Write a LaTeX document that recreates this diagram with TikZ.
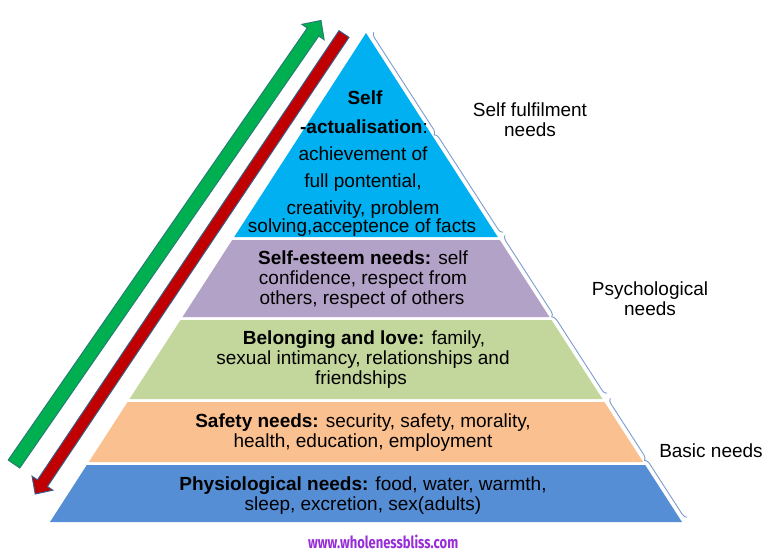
\documentclass[tikz,border=0pt]{standalone}
\usepackage{fontspec}
\setmainfont{Liberation Sans}
\newfontfamily\wmfont{Fira Sans}
\usepackage{graphicx}
\usetikzlibrary{calc,decorations.pathreplacing}
\definecolor{topblue}{RGB}{0,176,240}
\definecolor{lavender}{RGB}{179,162,199}
\definecolor{lightgreen}{RGB}{195,214,155}
\definecolor{peach}{RGB}{250,192,144}
\definecolor{baseblue}{RGB}{85,142,213}
\definecolor{arrowgreen}{RGB}{0,176,80}
\definecolor{arrowred}{RGB}{192,0,0}
\definecolor{outlineblue}{RGB}{56,93,138}
\definecolor{bracecol}{RGB}{125,155,205}
\definecolor{wmpurple}{RGB}{150,45,215}
\begin{document}
\begin{tikzpicture}[x=1pt,y=-1pt,
  txt/.style={anchor=base,inner sep=0pt,font=\fontsize{19}{20}\selectfont},
  side/.style={anchor=base,inner sep=0pt,align=center,font=\fontsize{19}{19.5}\selectfont},
  bracepath/.style={draw=bracecol,line width=0.9pt,decorate,decoration={brace,amplitude=5pt,mirror}},
  arrowshape/.style={line width=1pt,line join=miter}]
\useasboundingbox (0,0) rectangle (768,555);
% pyramid layers
\fill[topblue] (366,33) -- (497.8,237) -- (234.2,237) -- cycle;
\fill[lavender] (232.2,240) -- (499.8,240) -- (549.5,317) -- (182.5,317) -- cycle;
\fill[lightgreen] (180.5,320) -- (551.5,320) -- (602.5,399) -- (129.5,399) -- cycle;
\fill[peach] (127.6,402) -- (604.4,402) -- (643.2,462) -- (88.8,462) -- cycle;
\fill[baseblue] (86.8,465) -- (645.2,465) -- (682,522) -- (50,522) -- cycle;
% green arrow (upwards)
\coordinate (gA) at (14,464);
\coordinate (gT) at (321,20.5);
\coordinate (gC) at ($(gT)!14pt!(gA)$);
\filldraw[arrowshape,fill=arrowgreen,draw=outlineblue!60!arrowgreen]
  ($(gA)!7pt!90:(gT)$) -- ($(gC)!7pt!90:(gT)$) -- ($(gC)!13.5pt!90:(gT)$) -- (gT)
  -- ($(gC)!13.5pt!-90:(gT)$) -- ($(gC)!7pt!-90:(gT)$) -- ($(gA)!7pt!-90:(gT)$) -- cycle;
% red arrow (downwards)
\coordinate (rA) at (344,34);
\coordinate (rT) at (35.2,494);
\coordinate (rC) at ($(rT)!13pt!(rA)$);
\filldraw[arrowshape,fill=arrowred,draw=outlineblue]
  ($(rA)!6pt!90:(rT)$) -- ($(rC)!6pt!90:(rT)$) -- ($(rC)!12.5pt!90:(rT)$) -- (rT)
  -- ($(rC)!12.5pt!-90:(rT)$) -- ($(rC)!6pt!-90:(rT)$) -- ($(rA)!6pt!-90:(rT)$) -- cycle;
% braces
\coordinate (b1s) at (373.8,32.2);
\coordinate (b1e) at (503.0,232.2);
\coordinate (b2s) at (505.0,235.2);
\coordinate (b2e) at (607.0,393.2);
\coordinate (b3s) at (610.3,398.2);
\coordinate (b3e) at (687.1,517.2);
\draw[bracepath] (b1s) -- (b1e);
\draw[bracepath] (b2s) -- (b2e);
\draw[bracepath] (b3s) -- (b3e);
% top layer text
\node[txt] (t1) at (365,104) {\textbf{Self}};
\node[txt] (t2) at (364,133) {\textbf{-actualisation}:};
\node[txt] (t3) at (363,160) {achievement of};
\node[txt] (t4) at (363,187) {full pontential,};
\node[txt] (t5) at (363,214) {creativity, problem};
\node[txt] (t6) at (362,232) {solving,acceptence of facts};
% purple
\node[txt] (p1) at (363,264) {\textbf{Self-esteem needs:} self};
\node[txt] (p2) at (363,284) {confidence, respect from};
\node[txt] (p3) at (362,304) {others, respect of others};
% green
\node[txt] (g1) at (364,344) {\textbf{Belonging and love:} family,};
\node[txt] (g2) at (363,364) {sexual intimancy, relationships and};
\node[txt] (g3) at (361,384) {friendships};
% orange
\node[txt] (o1) at (363,427) {\textbf{Safety needs:} security, safety, morality,};
\node[txt] (o2) at (363,447) {health, education, employment};
% base
\node[txt] (f1) at (363,490) {\textbf{Physiological needs:} food, water, warmth,};
\node[txt] (f2) at (363,510) {sleep, excretion, sex(adults)};
% side labels (base anchor = last line)
\node[side] (s1) at (530,136) {Self fulfilment\\needs};
\node[side] (s2) at (650,315) {Psychological\\needs};
\node[side] (s3) at (711,457) {Basic needs};
% watermark
\node[anchor=base west,inner sep=0pt,text=wmpurple] (wm) at (308,548) {\resizebox{150pt}{13.5pt}{\wmfont\bfseries www.wholenessbliss.com}};
\end{tikzpicture}
\end{document}
